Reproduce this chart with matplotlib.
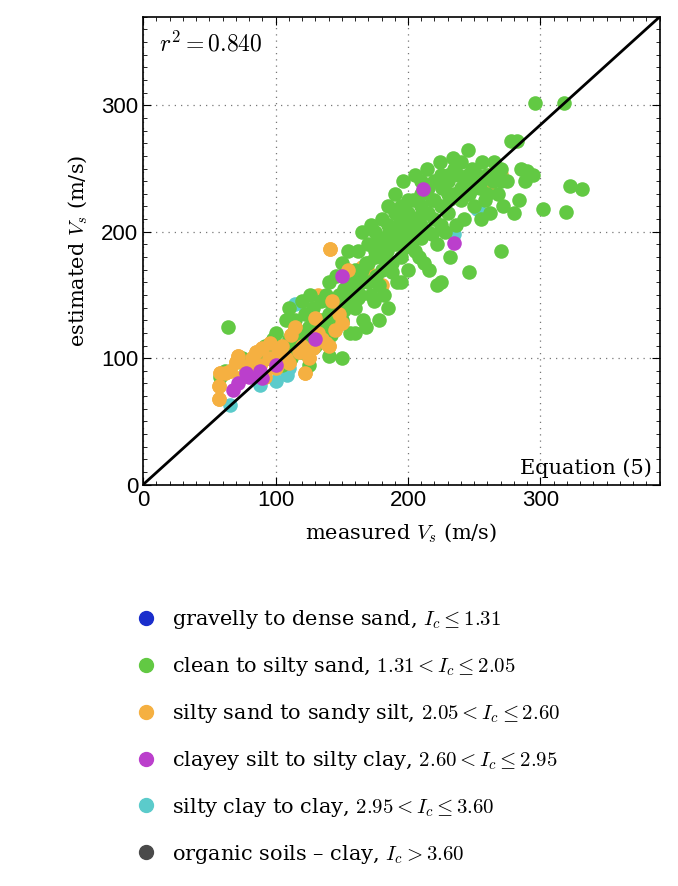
import matplotlib
matplotlib.use("Agg")
import matplotlib.pyplot as plt
from matplotlib.lines import Line2D

plt.rcParams['mathtext.fontset'] = 'cm'

green_x = [58,62,64,75,80,85,90,92,95,98,100,102,105,108,110,112,115,118,120,122,125,126,128,130,132,134,136,138,140,140,142,145,146,148,150,150,152,154,155,156,158,160,160,162,164,165,166,168,170,170,172,174,175,176,178,180,180,182,184,185,186,188,190,190,192,194,195,196,198,200,200,202,204,205,206,208,210,210,212,214,215,216,218,220,220,222,224,225,226,228,230,230,232,234,235,236,238,240,240,242,244,245,246,248,250,252,254,255,256,258,260,262,264,265,268,270,272,275,278,282,285,288,290,294,296,318,322,331,319,302,284,280,270,246,225,222,205,212,178,185,195,150,140,125,168,160,
           175,180,185,190,195,200,205,210,215,220,225,230,185,195,205,215,190,200,210,175,165,170,180,160,155,150,145,135,130,120,115,105,100,110,125,140,155,165,185,195,210,225,235,245,255,265,250,240,230,260,270,232,218,208,198,188,178,172,162,152,142,132,122,112,102,88,78]
green_y = [85,90,125,100,98,92,105,110,100,115,120,95,108,130,140,100,125,115,145,135,110,150,140,120,130,145,125,150,160,135,118,140,165,150,130,175,155,145,185,120,160,170,140,185,150,200,130,175,160,190,205,145,180,165,195,210,170,150,185,220,200,175,230,190,160,210,180,240,200,215,170,190,225,245,205,180,230,195,215,250,200,170,225,240,210,190,255,220,235,200,245,215,180,258,230,205,245,255,225,210,240,265,230,250,220,245,235,210,255,225,245,215,240,255,230,250,220,240,272,272,250,240,248,245,302,302,236,234,216,218,225,215,185,168,160,158,185,175,130,140,160,100,102,95,125,120,
           200,190,205,215,220,225,210,220,235,225,205,230,195,195,200,215,200,205,205,185,170,175,180,155,150,145,135,130,110,105,130,95,100,115,125,145,160,160,175,205,240,245,250,245,240,245,235,235,240,230,240,226,198,212,188,168,158,150,148,138,128,122,118,110,105,98,90]
orange_x = [57,57,58,62,66,70,72,75,78,80,82,85,88,90,92,95,96,100,102,105,108,110,112,115,118,120,122,125,128,130,132,135,138,140,143,145,148,150,141,155,158,165,170,180,262,262,270,132]
orange_y = [68,78,88,88,90,97,102,85,94,88,100,105,95,108,85,100,112,92,104,110,100,96,118,125,105,110,88,100,108,132,120,115,112,110,145,122,135,128,186,170,165,172,168,158,232,245,246,150]
purple_x = [211,235,68,72,78,80,90,88,130,100,150]
purple_y = [234,191,75,80,88,85,84,90,115,95,165]
cyan_x = [66,115,252,235,88,109,110,255,100]
cyan_y = [63,143,218,198,79,87,92,215,82]

labels = [r"gravelly to dense sand, $I_c \leq 1.31$",
          r"clean to silty sand, $1.31 < I_c \leq 2.05$",
          r"silty sand to sandy silt, $2.05 < I_c \leq 2.60$",
          r"clayey silt to silty clay, $2.60 < I_c \leq 2.95$",
          r"silty clay to clay, $2.95 < I_c \leq 3.60$",
          r"organic soils – clay, $I_c > 3.60$"]
colors = ['#1a2ecc', '#62c943', '#f5b041', '#bb3fcc', '#5bcbcb', '#4a4a4a']

fig = plt.figure(figsize=(6.78, 8.86), dpi=100)
ax = fig.add_axes([0.211, 0.453, 0.762, 0.528])
ax.set_xlim(0, 390)
ax.set_ylim(0, 370)
s = 110
ax.scatter(orange_x, orange_y, s=s, c=colors[2], lw=0, zorder=2)
ax.scatter(green_x, green_y, s=s, c=colors[1], lw=0, zorder=3)
ax.scatter(orange_x[:40], orange_y[:40], s=s, c=colors[2], lw=0, zorder=4)
ax.scatter(purple_x, purple_y, s=s, c=colors[3], lw=0, zorder=5)
ax.scatter(cyan_x, cyan_y, s=s, c=colors[4], lw=0, zorder=2.5)
ax.plot([0, 1], [0, 1], transform=ax.transAxes, color='black', lw=2, zorder=6)

ax.set_xticks([0, 100, 200, 300])
ax.set_yticks([0, 100, 200, 300])
ax.set_xticks(range(0, 391, 10), minor=True)
ax.set_yticks(range(0, 371, 10), minor=True)
ax.tick_params(which='both', direction='in', top=True, right=True, labelsize=16)
ax.tick_params(which='major', length=6)
ax.tick_params(which='minor', length=3)
for t in ax.get_xticklabels() + ax.get_yticklabels():
    t.set_family('Liberation Sans')
ax.grid(True, which='major', linestyle=(0, (1, 4)), color='#777777', lw=0.9)
for sp in ax.spines.values():
    sp.set_linewidth(1.2)
ax.set_xlabel(r"measured $V_s$ (m/s)", fontsize=15, family='DejaVu Serif', labelpad=8)
ax.set_ylabel(r"estimated $V_s$ (m/s)", fontsize=15, family='DejaVu Serif', labelpad=8)
ax.text(0.03, 0.97, r"$r^2 = 0.840$", transform=ax.transAxes, fontsize=17, va='top', ha='left')
ax.text(0.985, 0.015, "Equation (5)", transform=ax.transAxes, fontsize=15, va='bottom', ha='right', family='DejaVu Serif')

handles = [Line2D([], [], marker='o', ls='', color=c, markersize=10) for c in colors]
fig.legend(handles, labels, loc='upper left', bbox_to_anchor=(0.165, 0.335), frameon=False,
           labelspacing=1.15, handletextpad=0.5, handlelength=1.5,
           prop={'family': 'DejaVu Serif', 'size': 15})
fig.savefig('out.png', dpi=100)
